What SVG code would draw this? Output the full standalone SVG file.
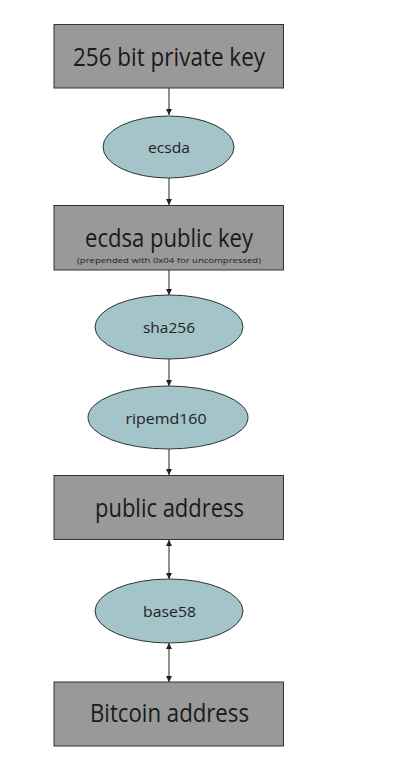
<svg xmlns="http://www.w3.org/2000/svg" width="405" height="764" viewBox="0 0 405 764">
<style>
.box{fill:#999999;stroke:#333333;stroke-width:1}
.ell{fill:#a3c4c9;stroke:#333333;stroke-width:1}
.big{font-family:"Open Sans","DejaVu Sans",sans-serif;font-size:26px;fill:#1a1a1a;text-anchor:middle}
.mid{font-family:"Open Sans","DejaVu Sans",sans-serif;font-size:15px;fill:#222222;text-anchor:middle}
.small{font-family:"Open Sans","DejaVu Sans",sans-serif;font-size:8px;fill:#222222;text-anchor:middle}
.edge{stroke:#222222;stroke-width:1;fill:none}
</style>
<defs>
<marker id="ah" viewBox="0 0 6 8" refX="6" refY="4" markerWidth="6" markerHeight="8" markerUnits="userSpaceOnUse" orient="auto-start-reverse">
<path d="M0,1 L6,4 L0,7 Z" fill="#222222"/>
</marker>
</defs>
<rect width="405" height="764" fill="#ffffff"/>
<g id="connectors">
<line class="edge" x1="169" y1="88" x2="169" y2="115" marker-end="url(#ah)"/>
<line class="edge" x1="169" y1="178" x2="169" y2="205" marker-end="url(#ah)"/>
<line class="edge" x1="169" y1="270" x2="169" y2="295" marker-end="url(#ah)"/>
<line class="edge" x1="169" y1="359" x2="169" y2="386" marker-end="url(#ah)"/>
<line class="edge" x1="169" y1="449" x2="169" y2="475" marker-end="url(#ah)"/>
<line class="edge" x1="169" y1="540" x2="169" y2="579" marker-start="url(#ah)" marker-end="url(#ah)"/>
<line class="edge" x1="169" y1="643" x2="169" y2="682" marker-start="url(#ah)" marker-end="url(#ah)"/>
</g>
<g id="private-key">
<rect class="box" x="54" y="24.5" width="229.5" height="63.5"/>
<text class="big" x="169" y="66" textLength="192" lengthAdjust="spacingAndGlyphs">256 bit private key</text>
</g>
<g id="ecsda">
<ellipse class="ell" cx="168.5" cy="147" rx="65.5" ry="31"/>
<text class="mid" x="169" y="153" textLength="42" lengthAdjust="spacingAndGlyphs">ecsda</text>
</g>
<g id="public-key">
<rect class="box" x="54" y="205.5" width="229.5" height="64.5"/>
<text class="big" x="169" y="247" textLength="168" lengthAdjust="spacingAndGlyphs">ecdsa public key</text>
<text class="small" x="169" y="263" textLength="184" lengthAdjust="spacingAndGlyphs">(prepended with 0x04  for uncompressed)</text>
</g>
<g id="sha256">
<ellipse class="ell" cx="169" cy="327" rx="74" ry="32"/>
<text class="mid" x="169" y="333" textLength="52" lengthAdjust="spacingAndGlyphs">sha256</text>
</g>
<g id="ripemd160">
<ellipse class="ell" cx="168" cy="417.5" rx="80" ry="31.5"/>
<text class="mid" x="166" y="424" textLength="81" lengthAdjust="spacingAndGlyphs">ripemd160</text>
</g>
<g id="public-address">
<rect class="box" x="54" y="475.5" width="229.5" height="64"/>
<text class="big" x="169.5" y="517" textLength="149" lengthAdjust="spacingAndGlyphs">public address</text>
</g>
<g id="base58">
<ellipse class="ell" cx="169" cy="611" rx="74" ry="32"/>
<text class="mid" x="169.5" y="617" textLength="53" lengthAdjust="spacingAndGlyphs">base58</text>
</g>
<g id="bitcoin-address">
<rect class="box" x="54" y="682" width="229.5" height="64"/>
<text class="big" x="169.5" y="722" textLength="159" lengthAdjust="spacingAndGlyphs">Bitcoin address</text>
</g>
</svg>
